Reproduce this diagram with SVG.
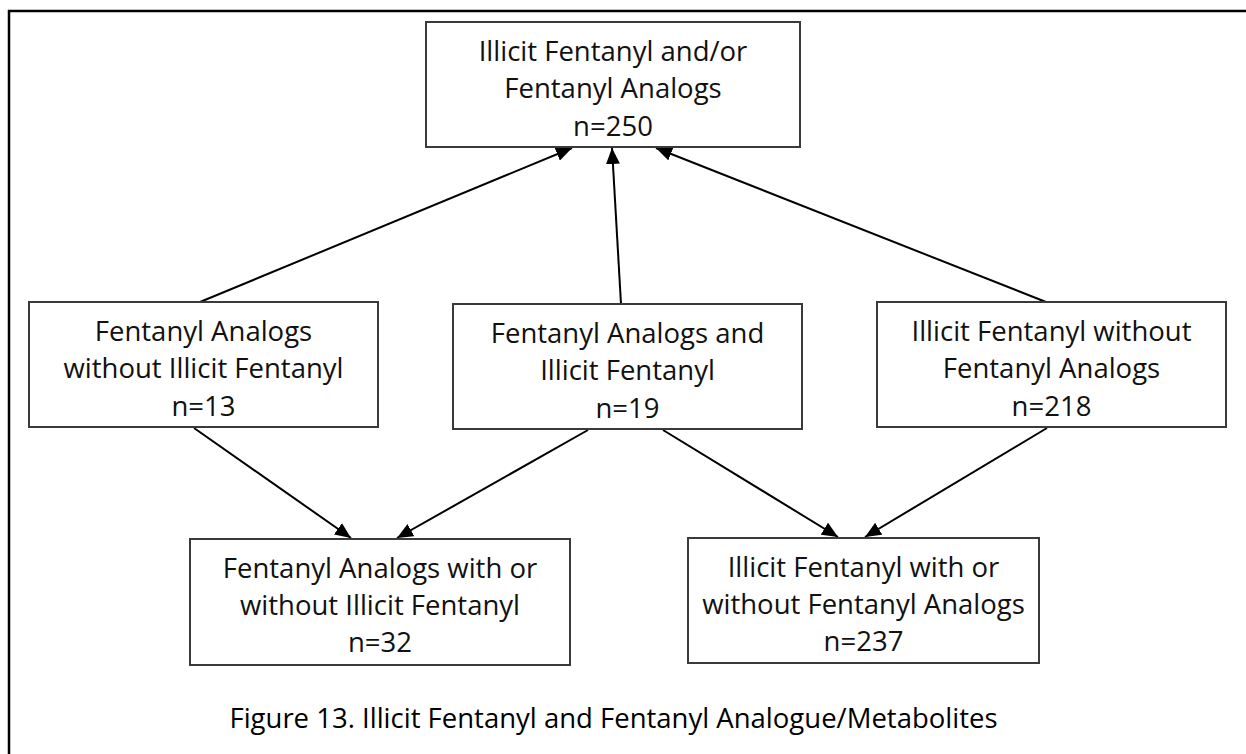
<svg xmlns="http://www.w3.org/2000/svg" width="1246" height="754" viewBox="0 0 1246 754">
<defs>
<style>
.box{fill:#fff;stroke:#3a3a3a;stroke-width:2}
.t{font-family:"Open Sans","Noto Sans","Liberation Sans",sans-serif;font-size:27.5px;fill:#111;text-anchor:middle}
.cap{font-family:"Open Sans","Noto Sans","Liberation Sans",sans-serif;font-size:27.5px;fill:#000;text-anchor:middle}
.edge{stroke:#000;stroke-width:2;fill:none;marker-end:url(#ah)}
</style>
<marker id="ah" markerUnits="userSpaceOnUse" markerWidth="17" markerHeight="14" refX="16" refY="7" orient="auto">
<path d="M0,0 L16,7 L0,14 Z" fill="#000"/>
</marker>
</defs>
<rect width="1246" height="754" fill="#fff"/>
<g id="frame">
<path d="M9,754 L9,11 L1246,11" fill="none" stroke="#000" stroke-width="2.5"/>
</g>
<g id="connectors">
<line class="edge" x1="200" y1="302" x2="572" y2="148"/>
<line class="edge" x1="621" y1="304" x2="612" y2="148"/>
<line class="edge" x1="1046" y1="302" x2="656" y2="148"/>
<line class="edge" x1="194" y1="428" x2="351" y2="538"/>
<line class="edge" x1="588" y1="430" x2="397" y2="538"/>
<line class="edge" x1="663" y1="430" x2="838" y2="537"/>
<line class="edge" x1="1047" y1="428" x2="865" y2="537"/>
</g>
<g id="n-top">
<rect class="box" x="426" y="22" width="374" height="125"/>
<text class="t" x="613" y="61">Illicit Fentanyl and/or</text>
<text class="t" x="613" y="98">Fentanyl Analogs</text>
<text class="t" x="613" y="136">n=250</text>
</g>
<g id="n-left">
<rect class="box" x="29" y="302" width="349" height="125"/>
<text class="t" x="203.5" y="341">Fentanyl Analogs</text>
<text class="t" x="203.5" y="378">without Illicit Fentanyl</text>
<text class="t" x="203.5" y="416">n=13</text>
</g>
<g id="n-mid">
<rect class="box" x="453" y="304" width="349" height="125"/>
<text class="t" x="627.5" y="343">Fentanyl Analogs and</text>
<text class="t" x="627.5" y="380">Illicit Fentanyl</text>
<text class="t" x="627.5" y="418">n=19</text>
</g>
<g id="n-right">
<rect class="box" x="877" y="302" width="349" height="125"/>
<text class="t" x="1051.5" y="341">Illicit Fentanyl without</text>
<text class="t" x="1051.5" y="378">Fentanyl Analogs</text>
<text class="t" x="1051.5" y="416">n=218</text>
</g>
<g id="n-botleft">
<rect class="box" x="190" y="539" width="380" height="126"/>
<text class="t" x="380" y="578">Fentanyl Analogs with or</text>
<text class="t" x="380" y="615">without Illicit Fentanyl</text>
<text class="t" x="380" y="652">n=32</text>
</g>
<g id="n-botright">
<rect class="box" x="688" y="538" width="351" height="125"/>
<text class="t" x="863.5" y="577">Illicit Fentanyl with or</text>
<text class="t" x="863.5" y="614">without Fentanyl Analogs</text>
<text class="t" x="863.5" y="651">n=237</text>
</g>
<g id="caption">
<text class="cap" x="613.5" y="728">Figure 13. Illicit Fentanyl and Fentanyl Analogue/Metabolites</text>
</g>
</svg>
